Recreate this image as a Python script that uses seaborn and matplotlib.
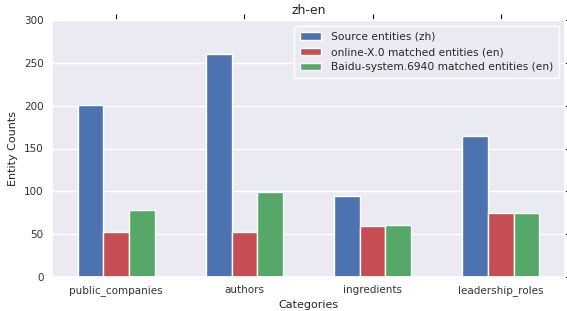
import matplotlib
matplotlib.use("Agg")
import matplotlib.pyplot as plt
import seaborn as sns
import pandas as pd

categories = ["public_companies", "authors", "ingredients", "leadership_roles"]
series_names = [
    "Source entities (zh)",
    "online-X.0 matched entities (en)",
    "Baidu-system.6940 matched entities (en)",
]
source_counts = [201, 260, 95, 165]
online_counts = [52, 52, 60, 75]
baidu_counts = [78, 99, 61, 75]
colors = ["#4C72B0", "#C44E52", "#55A868"]

rows = []
for name, vals in zip(series_names, [source_counts, online_counts, baidu_counts]):
    for cat, v in zip(categories, vals):
        rows.append({"Category": cat, "Series": name, "Count": v})
df = pd.DataFrame(rows)

sns.set_theme(style="darkgrid")
plt.rcParams["font.family"] = ["DejaVu Sans"]

fig = plt.figure(figsize=(5.67, 3.11), dpi=100)
ax = fig.add_axes([52 / 567, 1 - 277 / 311, (565 - 52) / 567, (277 - 20) / 311])

sns.barplot(
    data=df, x="Category", y="Count", hue="Series",
    order=categories, hue_order=series_names, palette=colors,
    saturation=1, width=0.6, edgecolor="white", linewidth=1, ax=ax,
)

ax.set_xlim(-0.5, 3.5)
ax.set_ylim(0, 300)
ax.set_yticks(range(0, 301, 50))
ax.set_title("zh-en", fontsize=9, pad=4)
ax.set_xlabel("Categories", fontsize=8, labelpad=3)
ax.set_ylabel("Entity Counts", fontsize=8, labelpad=4)
ax.tick_params(axis="both", labelsize=7.5, length=4, width=0.8, color="black",
               labelcolor="#333333", direction="out", top=True, right=True, pad=2)

leg = ax.legend(loc="upper right", fontsize=7.7, frameon=True, title=None,
                facecolor="#EAEAF2", edgecolor="white", framealpha=1,
                handlelength=2.0, handletextpad=0.9, borderaxespad=0.55,
                borderpad=0.55, labelspacing=0.5)

fig.savefig("out.png", dpi=100)
